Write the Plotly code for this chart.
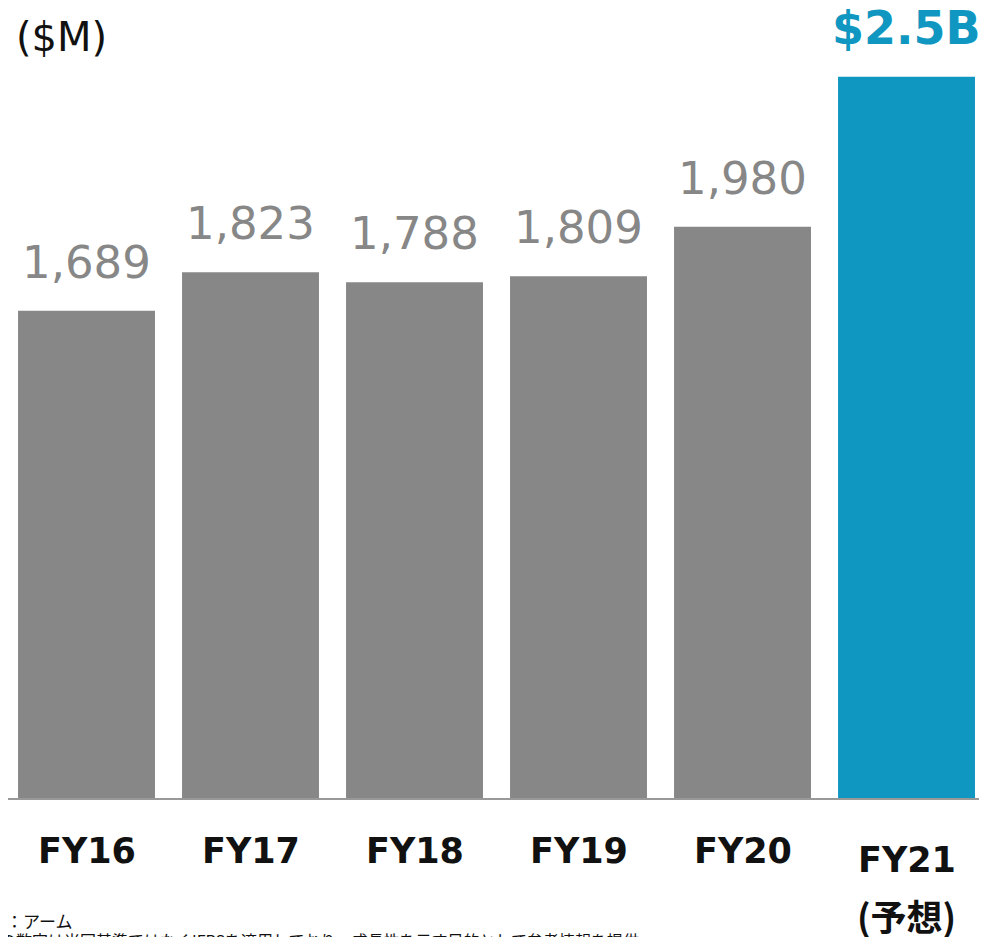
import plotly.graph_objects as go

categories = ["FY16", "FY17", "FY18", "FY19", "FY20", "FY21"]
values = [1689, 1823, 1788, 1809, 1980, 2500]
value_labels = ["1,689", "1,823", "1,788", "1,809", "1,980", "$2.5B"]
tick_labels = ["FY16", "FY17", "FY18", "FY19", "FY20", "FY21"]
forecast_label = "(予想)"
unit_label = "($M)"
source_line = "出所：アーム"
note_line = "※過去の数字は米国基準ではなくIFRSを適用しており、成長性を示す目的として参考情報を提供"

GRAY = "#878787"
BLUE = "#1097c1"
colors = [GRAY] * 5 + [BLUE]

fig = go.Figure()
fig.add_trace(go.Bar(
    x=list(range(len(categories))), y=values,
    marker=dict(color=colors, line=dict(width=0)),
    hoverinfo="skip",
))

W, H = 987, 937
ML, MR, MT, MB = 0, 6, 40, 147
pw = W - ML - MR

annotations = []
for i, (v, lab) in enumerate(zip(values, value_labels)):
    last = i == len(categories) - 1
    annotations.append(dict(
        x=i, y=v, xref="x", yref="y", text=lab, showarrow=False,
        yanchor="bottom", yshift=20,
        font=dict(family="DejaVu Sans", size=46 if last else 45,
                  color=BLUE if last else GRAY,
                  weight="bold" if last else "normal"),
    ))
for i, t in enumerate(tick_labels):
    last = i == len(categories) - 1
    annotations.append(dict(
        x=i, y=0, xref="x", yref="y", text=t, showarrow=False,
        yanchor="middle", yshift=-53 if not last else -62,
        font=dict(family="DejaVu Sans", size=35, color="#111111", weight="bold"),
    ))
annotations.append(dict(
    x=len(categories) - 1, y=0, xref="x", yref="y", text=forecast_label,
    showarrow=False, yanchor="middle", yshift=-117,
    font=dict(family="Noto Sans CJK JP", size=36, color="#111111", weight="bold"),
))

annotations.append(dict(
    x=6 / pw, y=1, xref="paper", yref="paper", yshift=11,
    text=unit_label, showarrow=False, xanchor="left", yanchor="middle",
    font=dict(family="DejaVu Sans", size=40, color="#111111"),
))
annotations.append(dict(
    x=-38 / pw, y=0, xref="paper", yref="paper", yshift=-122,
    text=source_line, showarrow=False, xanchor="left", yanchor="middle",
    font=dict(family="Noto Sans CJK JP", size=17, color="#111111"),
))
annotations.append(dict(
    x=-58 / pw, y=0, xref="paper", yref="paper", yshift=-142,
    text=note_line, showarrow=False, xanchor="left", yanchor="middle",
    font=dict(family="Noto Sans CJK JP", size=16, color="#111111"),
))

fig.update_layout(
    width=W, height=H,
    margin=dict(l=ML, r=MR, t=MT, b=MB, pad=0),
    paper_bgcolor="white", plot_bgcolor="white",
    bargap=0.165, showlegend=False,
    annotations=annotations,
    xaxis=dict(range=[-0.4787, 5.503], showticklabels=False, ticks="",
               showgrid=False, zeroline=False,
               showline=True, linecolor="#999999", linewidth=2, fixedrange=True),
    yaxis=dict(range=[0, 2600], visible=False, showgrid=False, zeroline=False,
               fixedrange=True),
)

fig.write_html("out.html")
